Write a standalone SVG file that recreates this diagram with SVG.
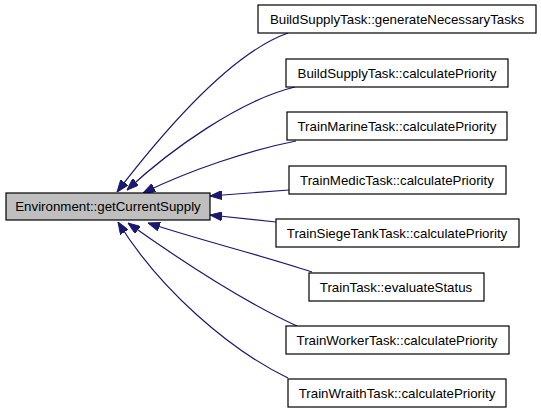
<svg xmlns="http://www.w3.org/2000/svg" width="541" height="413" viewBox="0 0 541 413">
<style>
.n rect{fill:#ffffff;stroke:#000000;stroke-width:1.2}
.n text{font-family:"Liberation Sans",Arial,sans-serif;font-size:13.3px;text-anchor:middle;fill:#000}
#main rect{fill:#bfbfbf}
.e path{fill:none;stroke:#191970;stroke-width:1.2}
</style>
<defs>
<marker id="ah" markerUnits="userSpaceOnUse" viewBox="0 0 12 9" refX="12" refY="4.5" markerWidth="12" markerHeight="9" orient="auto">
<path d="M0,0 L12,4.5 L0,9 z" fill="#191970" stroke="#191970"/>
</marker>
</defs>
<rect width="541" height="413" fill="#ffffff"/>
<g class="e">
<path d="M288,33 C240,50 180,110 117,192" marker-end="url(#ah)"/>
<path d="M295,87 C240,100 170,150 127,190" marker-end="url(#ah)"/>
<path d="M296,141 C250,150 190,170 143,193" marker-end="url(#ah)"/>
<path d="M289,190 L210,196" marker-end="url(#ah)"/>
<path d="M276,222 L210,215" marker-end="url(#ah)"/>
<path d="M312,272 C260,255 200,240 148,223" marker-end="url(#ah)"/>
<path d="M297,326 C240,300 180,260 128,223" marker-end="url(#ah)"/>
<path d="M288,378 C230,350 160,290 118,222" marker-end="url(#ah)"/>
</g>
<g id="main" class="n"><rect x="6" y="193" width="204" height="27"/><text x="108" y="211">Environment::getCurrentSupply</text></g>
<g id="n1" class="n"><rect x="258" y="5" width="278" height="28"/><text x="397" y="23.5">BuildSupplyTask::generateNecessaryTasks</text></g>
<g id="n2" class="n"><rect x="286" y="59" width="222" height="28"/><text x="397" y="77.5">BuildSupplyTask::calculatePriority</text></g>
<g id="n3" class="n"><rect x="287" y="112" width="220" height="28"/><text x="397" y="130.5">TrainMarineTask::calculatePriority</text></g>
<g id="n4" class="n"><rect x="289" y="166" width="217" height="28"/><text x="397" y="184.5">TrainMedicTask::calculatePriority</text></g>
<g id="n5" class="n"><rect x="276" y="219" width="243" height="28"/><text x="397" y="237.5">TrainSiegeTankTask::calculatePriority</text></g>
<g id="n6" class="n"><rect x="309" y="273" width="175" height="28"/><text x="396" y="291.5">TrainTask::evaluateStatus</text></g>
<g id="n7" class="n"><rect x="286" y="326" width="223" height="28"/><text x="397" y="344.5">TrainWorkerTask::calculatePriority</text></g>
<g id="n8" class="n"><rect x="288" y="379" width="218" height="28"/><text x="397" y="397.5">TrainWraithTask::calculatePriority</text></g>
</svg>
